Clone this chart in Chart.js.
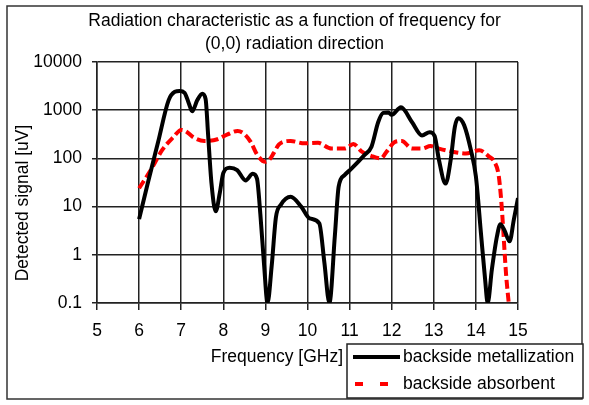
<!DOCTYPE html>
<html>
<head>
<meta charset="utf-8">
<script src="https://cdn.jsdelivr.net/npm/chart.js@4/dist/chart.umd.min.js"></script>
<style>
  html, body { margin: 0; padding: 0; background: #fff; }
  canvas { display: block; }
</style>
</head>
<body>
<canvas id="chart" width="589" height="405"></canvas>
<script>
// frequency in GHz, detected signal in uV
const freqMetal = [6.0, 6.2, 6.45, 6.7, 6.85, 6.96, 7.08, 7.18, 7.26, 7.38, 7.5, 7.58, 7.64, 7.72, 7.82, 7.92, 8.0, 8.15, 8.33, 8.53, 8.7, 8.8, 8.88, 8.97, 9.05, 9.15, 9.25, 9.37, 9.6, 9.85, 10.05, 10.28, 10.4, 10.52, 10.65, 10.74, 10.88, 11.05, 11.35, 11.52, 11.68, 11.8, 11.92, 12.0, 12.22, 12.48, 12.72, 12.9, 13.02, 13.12, 13.28, 13.4, 13.5, 13.58, 13.72, 13.88, 14.0, 14.12, 14.22, 14.28, 14.38, 14.5, 14.58, 14.68, 14.8, 14.9, 15.0];
const signalMetal = [5.5, 29, 216, 1600, 2400, 2500, 2300, 1400, 950, 1600, 2200, 1700, 300, 30, 8, 20, 50, 64, 57, 35, 48, 38, 7, 0.6, 0.1, 0.6, 6, 11, 16, 10, 5.7, 4.5, 0.7, 0.1, 2.5, 26, 45, 62, 117, 175, 570, 880, 900, 800, 1150, 570, 300, 350, 290, 95, 30, 92, 450, 680, 490, 150, 42, 2.8, 0.3, 0.1, 0.5, 2.4, 4.3, 3.2, 1.9, 5.3, 15];

const freqAbsorb = [6.0, 6.3, 6.55, 6.82, 7.0, 7.1, 7.3, 7.55, 7.86, 8.1, 8.34, 8.5, 8.65, 8.81, 9.0, 9.1, 9.2, 9.32, 9.6, 9.93, 10.25, 10.57, 10.89, 11.09, 11.29, 11.52, 11.74, 11.88, 12.08, 12.24, 12.48, 12.72, 12.92, 13.12, 13.44, 13.76, 14.08, 14.32, 14.44, 14.54, 14.6, 14.64, 14.68, 14.72, 14.78];
const signalAbsorb = [24, 62, 150, 280, 390, 370, 270, 230, 250, 315, 370, 320, 220, 117, 85, 95, 130, 195, 230, 205, 210, 160, 160, 200, 138, 112, 100, 138, 220, 230, 160, 160, 180, 160, 138, 127, 148, 108, 85, 45, 14, 4.5, 1.2, 0.36, 0.1];

const yTicks = [0.1, 1, 10, 100, 1000, 10000];

const titleLines = ['Radiation characteristic as a function of frequency for', '(0,0) radiation direction'];
const xTitle = 'Frequency [GHz]';
const yTitle = 'Detected signal [uV]';
const seriesNames = ['backside metallization', 'backside absorbent'];

const FAMILY = '"Liberation Sans", Arial, sans-serif';
const FONT = '17.5px ' + FAMILY;

const toPoints = (xs, ys) => xs.map((x, i) => ({ x: x, y: ys[i] }));

// frame, titles and legend box drawn around the plot
const decorations = {
  id: 'decorations',
  afterDraw(chart) {
    const ctx = chart.ctx;
    ctx.save();
    ctx.fillStyle = '#000';
    ctx.font = FONT;

    ctx.strokeStyle = '#333';
    ctx.lineWidth = 1.5;
    ctx.strokeRect(7, 6, 575, 393);

    ctx.textAlign = 'center';
    ctx.textBaseline = 'middle';
    ctx.fillText(titleLines[0], 294.5, 21);
    ctx.fillText(titleLines[1], 294.5, 44);

    ctx.textAlign = 'right';
    ctx.fillText(xTitle, 343, 357);

    ctx.save();
    ctx.translate(23, 203);
    ctx.rotate(-Math.PI / 2);
    ctx.textAlign = 'center';
    ctx.fillText(yTitle, 0, 0);
    ctx.restore();

    // legend
    ctx.fillStyle = '#fff';
    ctx.fillRect(347, 344, 236, 54);
    ctx.strokeStyle = '#222';
    ctx.lineWidth = 1.5;
    ctx.strokeRect(347, 344, 236, 54);

    ctx.lineCap = 'butt';
    ctx.strokeStyle = '#000';
    ctx.lineWidth = 4;
    ctx.beginPath();
    ctx.moveTo(353, 357);
    ctx.lineTo(400, 357);
    ctx.stroke();

    ctx.strokeStyle = '#ff0000';
    ctx.lineWidth = 4;
    ctx.beginPath();
    ctx.moveTo(355, 384); ctx.lineTo(363, 384);
    ctx.moveTo(380, 384); ctx.lineTo(388, 384);
    ctx.stroke();

    ctx.fillStyle = '#000';
    ctx.textAlign = 'left';
    ctx.fillText(seriesNames[0], 403, 357);
    ctx.fillText(seriesNames[1], 403, 384);
    ctx.restore();
  }
};

new Chart(document.getElementById('chart'), {
  type: 'line',
  data: {
    datasets: [
      {
        label: seriesNames[0],
        data: toPoints(freqMetal, signalMetal),
        borderColor: '#000',
        borderWidth: 4,
        pointRadius: 0,
        cubicInterpolationMode: 'monotone',
      },
      {
        label: seriesNames[1],
        data: toPoints(freqAbsorb, signalAbsorb),
        borderColor: '#ff0000',
        borderWidth: 4,
        borderDash: [9, 4],
        borderCapStyle: 'butt',
        pointRadius: 0,
        cubicInterpolationMode: 'monotone',
      },
    ],
  },
  plugins: [decorations],
  options: {
    responsive: false,
    animation: false,
    devicePixelRatio: 1,
    layout: {
      padding: { top: 62, right: 71, bottom: 0, left: 0 },
    },
    scales: {
      x: {
        type: 'linear',
        min: 5,
        max: 15,
        ticks: {
          stepSize: 1,
          color: '#000',
          font: { family: FAMILY, size: 17.5 },
          padding: 11,
          maxRotation: 0,
        },
        grid: { color: '#222', lineWidth: 1.5, tickLength: 7 },
        border: { color: '#222', width: 1.5 },
        afterFit: (scale) => { scale.height = 102; },
      },
      y: {
        type: 'logarithmic',
        min: 0.1,
        max: 10000,
        afterBuildTicks: (scale) => { scale.ticks = yTicks.map(v => ({ value: v })); },
        ticks: {
          color: '#000',
          font: { family: FAMILY, size: 17.5 },
          padding: 10,
          callback: (value) => String(value),
        },
        grid: { color: '#222', lineWidth: 1.5, tickLength: 5 },
        border: { color: '#222', width: 1.5 },
        afterFit: (scale) => { scale.width = 97; },
      },
    },
    plugins: {
      legend: { display: false },
      title: { display: false },
      tooltip: { enabled: false },
    },
  },
});
</script>
</body>
</html>
